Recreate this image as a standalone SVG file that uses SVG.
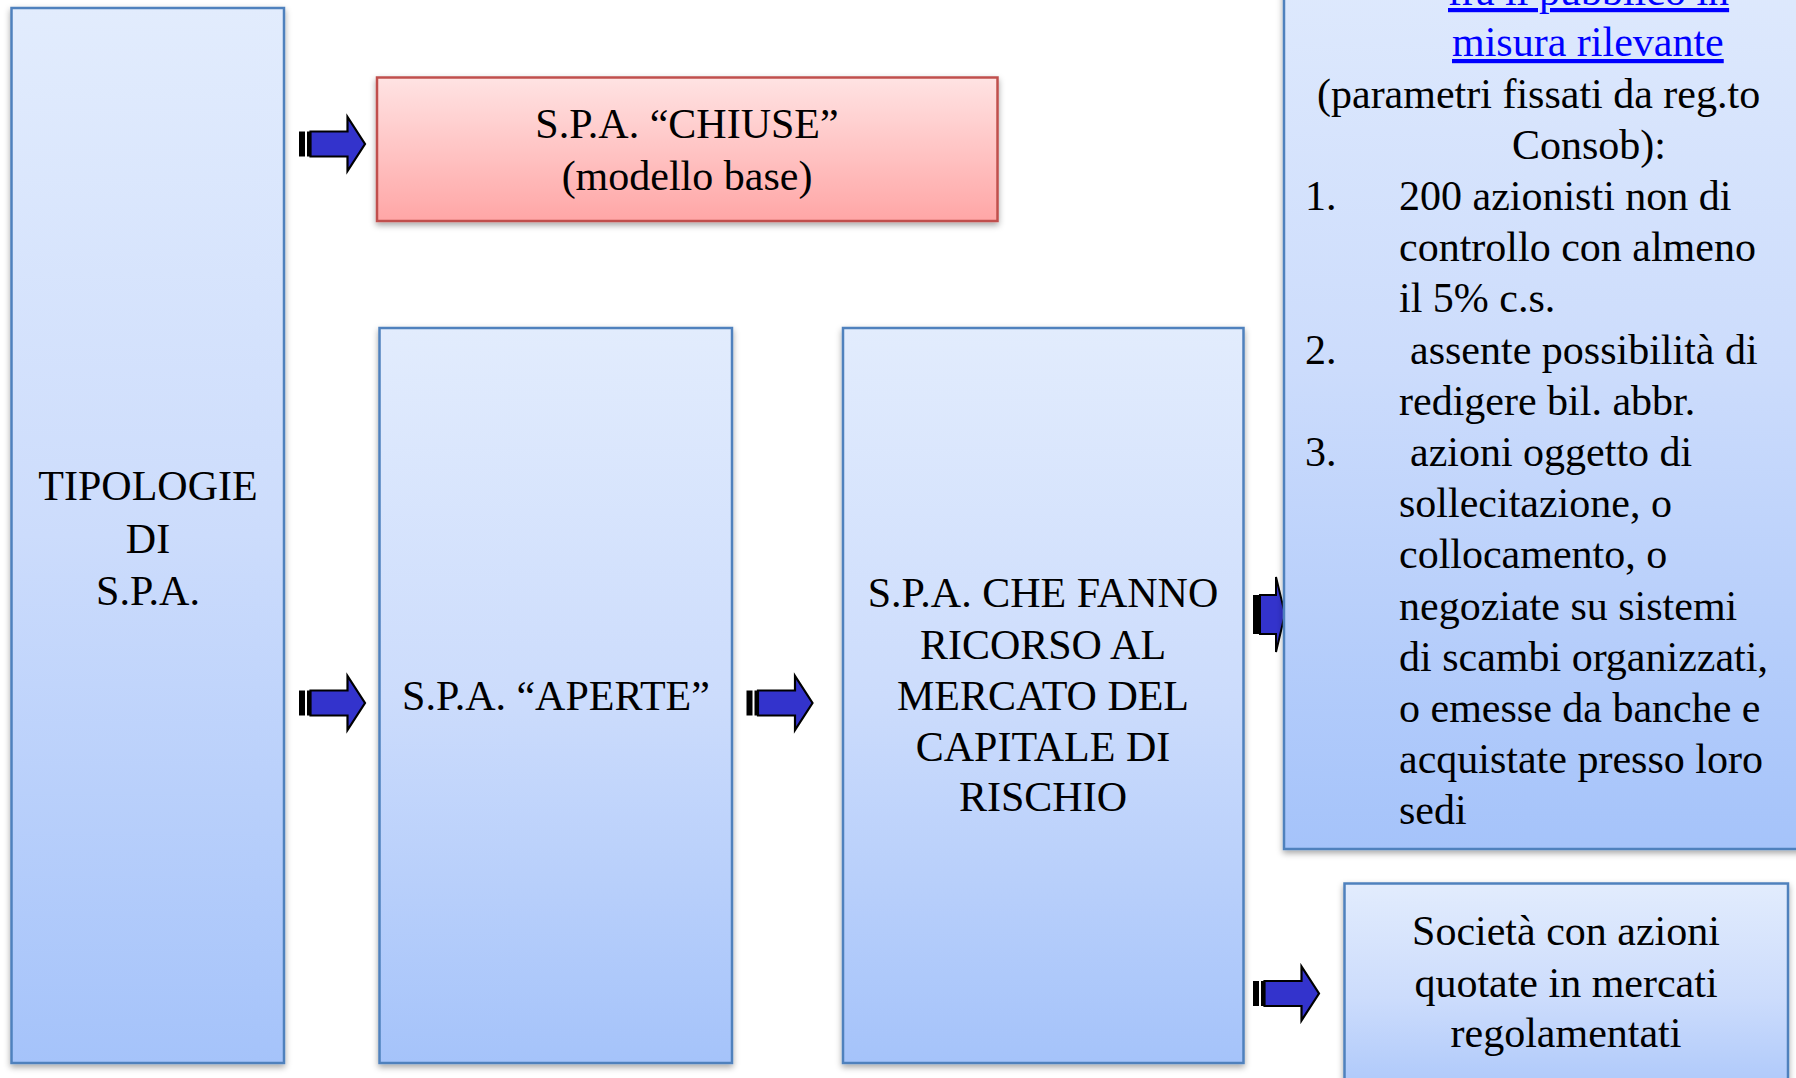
<svg xmlns="http://www.w3.org/2000/svg" width="1796" height="1078" viewBox="0 0 1796 1078">
  <defs>
    <linearGradient id="gBlue" x1="0" y1="0" x2="0" y2="1">
      <stop offset="0" stop-color="#E2ECFD"/>
      <stop offset="0.5" stop-color="#CCDCFC"/>
      <stop offset="1" stop-color="#A5C3FA"/>
    </linearGradient>
    <linearGradient id="gRed" x1="0" y1="0" x2="0" y2="1">
      <stop offset="0" stop-color="#FFE3E3"/>
      <stop offset="1" stop-color="#FFA6A6"/>
    </linearGradient>
    <filter id="sh" x="-10%" y="-10%" width="120%" height="120%">
      <feDropShadow dx="0" dy="3" stdDeviation="3" flood-color="#000" flood-opacity="0.35"/>
    </filter>
    <g id="arrow">
      <rect x="0" y="-12.5" width="6" height="25" fill="#000"/>
      <rect x="8" y="-12.5" width="3" height="25" fill="#000"/>
      <path d="M11.5,-12.5 H48.5 V-27 L66,0 L48.5,27 V12.5 H11.5 Z" fill="#3333CC" stroke="#000" stroke-width="2.2" stroke-linejoin="miter"/>
    </g>
  </defs>
  <style>
    .box { fill: url(#gBlue); stroke: #4F81BD; stroke-width: 2.5; filter: url(#sh); }
    .red { fill: url(#gRed); stroke: #C0504D; stroke-width: 2.5; filter: url(#sh); }
    text { font-family: "Liberation Serif", "Times New Roman", serif; font-size: 42px; fill: #000; }
    .c { text-anchor: middle; }
    .link { fill: #0000FF; text-decoration: underline; }
  </style>

  <rect width="1796" height="1078" fill="#FFFFFF"/>

  <g id="connectors">
    <use href="#arrow" x="299" y="144"/>
    <use href="#arrow" x="299" y="703"/>
    <use href="#arrow" x="746.5" y="703"/>
    <use href="#arrow" x="1253" y="993.5"/>
    <g id="arrow4">
      <rect x="1253" y="595" width="6.5" height="39" fill="#000"/>
      <path d="M1260,595 H1276 V577 L1285,614 L1276,652 V634 H1260 Z" fill="#3333CC" stroke="#000" stroke-width="2"/>
    </g>
  </g>

  <g id="node-tipologie">
    <rect class="box" x="11.5" y="8" width="272.5" height="1055"/>
    <text class="c" x="148" y="500">TIPOLOGIE</text>
    <text class="c" x="148" y="552.5">DI</text>
    <text class="c" x="148" y="605">S.P.A.</text>
  </g>

  <g id="node-chiuse">
    <rect class="red" x="377" y="77.5" width="620.5" height="143.5"/>
    <text class="c" x="687" y="138">S.P.A. “CHIUSE”</text>
    <text class="c" x="687" y="190">(modello base)</text>
  </g>

  <g id="node-aperte">
    <rect class="box" x="379.5" y="328" width="352.5" height="735"/>
    <text class="c" x="556" y="710">S.P.A. “APERTE”</text>
  </g>

  <g id="node-capitale">
    <rect class="box" x="843" y="328" width="400.5" height="735"/>
    <text class="c" x="1043" y="607">S.P.A. CHE FANNO</text>
    <text class="c" x="1043" y="658.5">RICORSO AL</text>
    <text class="c" x="1043" y="709.5">MERCATO DEL</text>
    <text class="c" x="1043" y="760.5">CAPITALE DI</text>
    <text class="c" x="1043" y="811">RISCHIO</text>
  </g>

  <g id="node-diffuse">
    <rect class="box" x="1284" y="-110" width="530" height="959"/>
    <text class="link" x="1448" y="5">fra il pubblico in</text>
    <text class="link" x="1452" y="56">misura rilevante</text>
    <text x="1317" y="107.5">(parametri fissati da reg.to</text>
    <text x="1512" y="158.5">Consob):</text>
    <text x="1305" y="210">1.</text>
    <text x="1399" y="210">200 azionisti non di</text>
    <text x="1399" y="261.2">controllo con almeno</text>
    <text x="1399" y="312.4">il 5% c.s.</text>
    <text x="1305" y="363.6">2.</text>
    <text x="1410" y="363.6">assente possibilità di</text>
    <text x="1399" y="414.8">redigere bil. abbr.</text>
    <text x="1305" y="466">3.</text>
    <text x="1410" y="466">azioni oggetto di</text>
    <text x="1399" y="517.2">sollecitazione, o</text>
    <text x="1399" y="568.4">collocamento, o</text>
    <text x="1399" y="619.6">negoziate su sistemi</text>
    <text x="1399" y="670.8">di scambi organizzati,</text>
    <text x="1399" y="722">o emesse da banche e</text>
    <text x="1399" y="773.2">acquistate presso loro</text>
    <text x="1399" y="824.4">sedi</text>
  </g>

  <g id="node-quotate">
    <rect class="box" x="1344.5" y="883.5" width="443.5" height="230"/>
    <text class="c" x="1566" y="945">Società con azioni</text>
    <text class="c" x="1566" y="996.5">quotate in mercati</text>
    <text class="c" x="1566" y="1047">regolamentati</text>
  </g>
</svg>
